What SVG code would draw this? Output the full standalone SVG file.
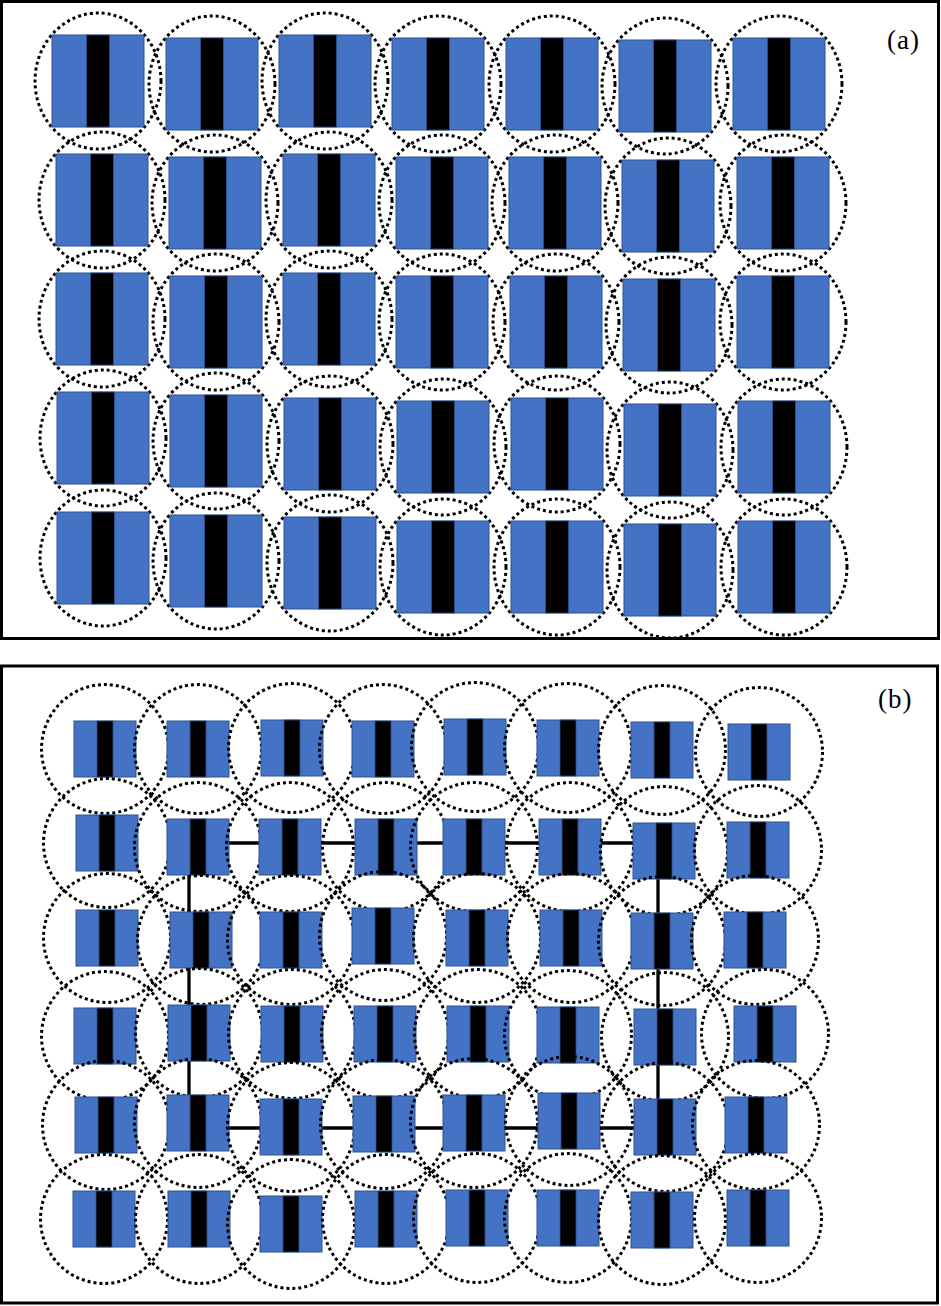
<svg xmlns="http://www.w3.org/2000/svg" width="941" height="1306" viewBox="0 0 941 1306">
<defs>
<style>
.frame{fill:none;stroke:#000;stroke-width:3}
.ring{fill:none;stroke:#000;stroke-width:3;stroke-dasharray:3 3}
.blk{fill:#4472C4;stroke:#2F528F;stroke-width:1}
.bar{fill:#000;stroke:#2F528F;stroke-width:0.8}
.link{fill:none;stroke:#000;stroke-width:3.3}
.lbl{font-family:"Liberation Serif","Times New Roman",serif;font-size:27px;letter-spacing:1px;fill:#000}
</style>
<g id="cellA">
<ellipse class="ring" cx="0" cy="0" rx="63" ry="68"/>
<rect class="blk" x="-46" y="-46" width="92" height="92"/>
<rect class="bar" x="-11.5" y="-46" width="23" height="92"/>
</g>
<g id="cellB">
<ellipse class="ring" cx="0" cy="0" rx="63.5" ry="64.5"/>
<rect class="blk" x="-31" y="-28" width="62" height="56"/>
<rect class="bar" x="-8" y="-28" width="16" height="56"/>
</g>
</defs>
<rect width="941" height="1306" fill="#fff"/>
<rect class="frame" x="1.5" y="1.5" width="937" height="637"/>
<rect class="frame" x="1.5" y="666" width="936" height="637"/>
<text class="lbl" x="887" y="49">(a)</text>
<text class="lbl" x="878" y="708">(b)</text>
<g id="panel-a">
<g id="a-r1c1"><use href="#cellA" x="98" y="81"/></g>
<g id="a-r1c2"><use href="#cellA" x="212" y="84"/></g>
<g id="a-r1c3"><use href="#cellA" x="325" y="81"/></g>
<g id="a-r1c4"><use href="#cellA" x="438" y="84"/></g>
<g id="a-r1c5"><use href="#cellA" x="552" y="84"/></g>
<g id="a-r1c6"><use href="#cellA" x="665" y="86"/></g>
<g id="a-r1c7"><use href="#cellA" x="779" y="84"/></g>
<g id="a-r2c1"><use href="#cellA" x="102" y="200"/></g>
<g id="a-r2c2"><use href="#cellA" x="215" y="203"/></g>
<g id="a-r2c3"><use href="#cellA" x="329" y="200"/></g>
<g id="a-r2c4"><use href="#cellA" x="442" y="203"/></g>
<g id="a-r2c5"><use href="#cellA" x="555" y="203"/></g>
<g id="a-r2c6"><use href="#cellA" x="668" y="206"/></g>
<g id="a-r2c7"><use href="#cellA" x="783" y="203"/></g>
<g id="a-r3c1"><use href="#cellA" x="102" y="319"/></g>
<g id="a-r3c2"><use href="#cellA" x="216" y="322"/></g>
<g id="a-r3c3"><use href="#cellA" x="329" y="319"/></g>
<g id="a-r3c4"><use href="#cellA" x="442" y="322"/></g>
<g id="a-r3c5"><use href="#cellA" x="556" y="322"/></g>
<g id="a-r3c6"><use href="#cellA" x="669" y="325"/></g>
<g id="a-r3c7"><use href="#cellA" x="783" y="322"/></g>
<g id="a-r4c1"><use href="#cellA" x="103" y="438"/></g>
<g id="a-r4c2"><use href="#cellA" x="216" y="441"/></g>
<g id="a-r4c3"><use href="#cellA" x="330" y="444"/></g>
<g id="a-r4c4"><use href="#cellA" x="443" y="447"/></g>
<g id="a-r4c5"><use href="#cellA" x="557" y="444"/></g>
<g id="a-r4c6"><use href="#cellA" x="670" y="450"/></g>
<g id="a-r4c7"><use href="#cellA" x="784" y="447"/></g>
<g id="a-r5c1"><use href="#cellA" x="103" y="558"/></g>
<g id="a-r5c2"><use href="#cellA" x="216" y="561"/></g>
<g id="a-r5c3"><use href="#cellA" x="330" y="563"/></g>
<g id="a-r5c4"><use href="#cellA" x="443" y="567"/></g>
<g id="a-r5c5"><use href="#cellA" x="557" y="567"/></g>
<g id="a-r5c6"><use href="#cellA" x="670" y="570"/></g>
<g id="a-r5c7"><use href="#cellA" x="784" y="567"/></g>
</g>
<g id="connectors">
<path class="link" d="M189 843 H658 V1128 H189 Z"/>
</g>
<g id="panel-b">
<g id="b-r1c1"><use href="#cellB" x="105" y="749"/></g>
<g id="b-r1c2"><use href="#cellB" x="198" y="749"/></g>
<g id="b-r1c3"><use href="#cellB" x="292" y="748"/></g>
<g id="b-r1c4"><use href="#cellB" x="383" y="749"/></g>
<g id="b-r1c5"><use href="#cellB" x="475" y="747"/></g>
<g id="b-r1c6"><use href="#cellB" x="568" y="748"/></g>
<g id="b-r1c7"><use href="#cellB" x="662" y="750"/></g>
<g id="b-r1c8"><use href="#cellB" x="759" y="752"/></g>
<g id="b-r2c1"><use href="#cellB" x="107" y="843"/></g>
<g id="b-r2c2"><use href="#cellB" x="198" y="847"/></g>
<g id="b-r2c3"><use href="#cellB" x="290" y="847"/></g>
<g id="b-r2c4"><use href="#cellB" x="386" y="847"/></g>
<g id="b-r2c5"><use href="#cellB" x="474" y="847"/></g>
<g id="b-r2c6"><use href="#cellB" x="570" y="847"/></g>
<g id="b-r2c7"><use href="#cellB" x="664" y="851"/></g>
<g id="b-r2c8"><use href="#cellB" x="758" y="850"/></g>
<g id="b-r3c1"><use href="#cellB" x="107" y="938"/></g>
<g id="b-r3c2"><use href="#cellB" x="201" y="940"/></g>
<g id="b-r3c3"><use href="#cellB" x="291" y="940"/></g>
<g id="b-r3c4"><use href="#cellB" x="383" y="936"/></g>
<g id="b-r3c5"><use href="#cellB" x="477" y="938"/></g>
<g id="b-r3c6"><use href="#cellB" x="571" y="938"/></g>
<g id="b-r3c7"><use href="#cellB" x="662" y="941"/></g>
<g id="b-r3c8"><use href="#cellB" x="755" y="940"/></g>
<g id="b-r4c1"><use href="#cellB" x="105" y="1036"/></g>
<g id="b-r4c2"><use href="#cellB" x="199" y="1033"/></g>
<g id="b-r4c3"><use href="#cellB" x="292" y="1034"/></g>
<g id="b-r4c4"><use href="#cellB" x="385" y="1034"/></g>
<g id="b-r4c5"><use href="#cellB" x="478" y="1034"/></g>
<g id="b-r4c6"><use href="#cellB" x="568" y="1035"/></g>
<g id="b-r4c7"><use href="#cellB" x="665" y="1037"/></g>
<g id="b-r4c8"><use href="#cellB" x="765" y="1034"/></g>
<g id="b-r5c1"><use href="#cellB" x="106" y="1125"/></g>
<g id="b-r5c2"><use href="#cellB" x="198" y="1123"/></g>
<g id="b-r5c3"><use href="#cellB" x="291" y="1127"/></g>
<g id="b-r5c4"><use href="#cellB" x="384" y="1124"/></g>
<g id="b-r5c5"><use href="#cellB" x="474" y="1123"/></g>
<g id="b-r5c6"><use href="#cellB" x="569" y="1121"/></g>
<g id="b-r5c7"><use href="#cellB" x="665" y="1127"/></g>
<g id="b-r5c8"><use href="#cellB" x="756" y="1125"/></g>
<g id="b-r6c1"><use href="#cellB" x="104" y="1219"/></g>
<g id="b-r6c2"><use href="#cellB" x="199" y="1219"/></g>
<g id="b-r6c3"><use href="#cellB" x="291" y="1224"/></g>
<g id="b-r6c4"><use href="#cellB" x="386" y="1219"/></g>
<g id="b-r6c5"><use href="#cellB" x="477" y="1218"/></g>
<g id="b-r6c6"><use href="#cellB" x="568" y="1218"/></g>
<g id="b-r6c7"><use href="#cellB" x="662" y="1220"/></g>
<g id="b-r6c8"><use href="#cellB" x="758" y="1218"/></g>
</g>
</svg>
